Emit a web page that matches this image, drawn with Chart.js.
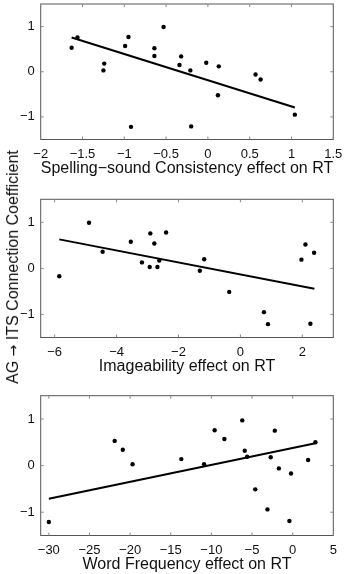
<!DOCTYPE html>
<html>
<head>
<meta charset="utf-8">
<script src="https://cdn.jsdelivr.net/npm/chart.js@4.4.1/dist/chart.umd.min.js"></script>
<style>
  body { margin: 0; background: #fff; }
  #wrap { position: relative; width: 347px; height: 574px; overflow: hidden; }
  #wrap canvas { position: absolute; left: 0; }
  #ylab {
    position: absolute; left: 12.5px; top: 267px;
    transform: translate(-50%, -50%) rotate(-90deg);
    white-space: nowrap; font: 16px "Liberation Sans", Arial, sans-serif; color: #111;
  }
  #ylab .arr { font-family: "DejaVu Sans", sans-serif; font-size: 14px; }
</style>
</head>
<body>
<div id="wrap">
  <canvas id="c1" width="347" height="178" style="top:0px"></canvas>
  <canvas id="c2" width="347" height="186" style="top:190px"></canvas>
  <canvas id="c3" width="347" height="189" style="top:385px"></canvas>
  <div id="ylab">AG <span class="arr">→</span> ITS Connection Coefficient</div>
</div>
<script>
// shared y axis
const yTicks = [-1, 0, 1];

// panel 1: spelling-sound consistency
const consX = [-1.63, -1.56, -1.24, -1.25, -0.99, -0.95, -0.92, -0.53, -0.64, -0.64,
               -0.32, -0.34, -0.21, -0.20, -0.02, 0.13, 0.12, 0.57, 0.63, 1.04];
const consY = [0.53, 0.76, 0.18, 0.03, 0.57, 0.77, -1.22, 0.99, 0.52, 0.35,
               0.34, 0.15, 0.03, -1.21, 0.20, 0.12, -0.52, -0.06, -0.17, -0.95];
const consFitX = [-1.63, 1.04];
const consFitY = [0.76, -0.79];
const consTicks = [-2, -1.5, -1, -0.5, 0, 0.5, 1, 1.5];

// panel 2: imageability
const imgX = [-5.85, -4.89, -4.45, -3.54, -3.18, -2.93, -2.91, -2.78, -2.68, -2.62,
              -2.40, -1.31, -1.17, -0.36, 0.76, 0.89, 1.97, 2.10, 2.26, 2.38];
const imgY = [-0.17, 0.99, 0.36, 0.58, 0.13, 0.03, 0.76, 0.54, 0.03, 0.17,
              0.78, -0.05, 0.20, -0.51, -0.95, -1.21, 0.19, 0.52, -1.20, 0.34];
const imgFitX = [-5.85, 2.39];
const imgFitY = [0.63, -0.44];
const imgTicks = [-6, -4, -2, 0, 2];

// panel 3: word frequency
const freqX = [-30.0, -21.9, -20.9, -19.7, -13.7, -10.9, -9.6, -8.4, -6.2, -5.9,
               -5.6, -4.6, -3.1, -2.7, -2.2, -1.7, -0.4, -0.2, 1.9, 2.8];
const freqY = [-1.21, 0.53, 0.34, 0.03, 0.14, 0.03, 0.76, 0.57, 0.97, 0.32,
               0.19, -0.51, -0.94, 0.18, 0.75, -0.06, -1.19, -0.17, 0.12, 0.50];
const freqFitX = [-30.0, 2.8];
const freqFitY = [-0.71, 0.48];
const freqTicks = [-30, -25, -20, -15, -10, -5, 0, 5];

const FONT = "'Liberation Sans', Arial, sans-serif";

// matlab style box with inward ticks
const boxPlugin = {
  id: "box",
  afterDatasetsDraw(chart) {
    const { ctx, chartArea: a, scales } = chart;
    ctx.save();
    ctx.strokeStyle = "#555";
    ctx.lineWidth = 1;
    ctx.strokeRect(a.left, a.top, a.right - a.left, a.bottom - a.top);
    ctx.strokeStyle = "#888";
    ctx.beginPath();
    scales.x.ticks.forEach(t => {
      const px = scales.x.getPixelForValue(t.value);
      ctx.moveTo(px, a.bottom); ctx.lineTo(px, a.bottom - 3);
      ctx.moveTo(px, a.top); ctx.lineTo(px, a.top + 3);
    });
    scales.y.ticks.forEach(t => {
      const py = scales.y.getPixelForValue(t.value);
      ctx.moveTo(a.left, py); ctx.lineTo(a.left + 3, py);
      ctx.moveTo(a.right, py); ctx.lineTo(a.right - 3, py);
    });
    ctx.stroke();
    ctx.restore();
  }
};

const fmt = v => String(v).replace("-", "\u2212");

function makePanel(id, xs, ys, fitX, fitY, xMin, xMax, xTicks, title, padTop) {
  new Chart(document.getElementById(id), {
    type: "scatter",
    data: {
      datasets: [
        {
          data: xs.map((x, i) => ({ x: x, y: ys[i] })),
          backgroundColor: "#000",
          borderColor: "#000",
          pointRadius: 2.2,
          pointBorderWidth: 0
        },
        {
          type: "line",
          data: fitX.map((x, i) => ({ x: x, y: fitY[i] })),
          borderColor: "#000",
          borderWidth: 2,
          pointRadius: 0,
          fill: false
        }
      ]
    },
    options: {
      responsive: false,
      animation: false,
      devicePixelRatio: 1,
      layout: { padding: { top: padTop, right: 13.7, left: 0, bottom: 0 } },
      plugins: { legend: { display: false }, tooltip: { enabled: false } },
      scales: {
        x: {
          type: "linear",
          min: xMin,
          max: xMax,
          afterBuildTicks: s => { s.ticks = xTicks.map(v => ({ value: v })); },
          afterFit: s => { s.height = 38.5; s.paddingLeft = 0; s.paddingRight = 0; },
          grid: { display: false, drawTicks: false },
          border: { display: false },
          ticks: { padding: 7, color: "#111", font: { family: FONT, size: 13 }, callback: fmt, maxRotation: 0, autoSkip: false },
          title: { display: true, text: title, color: "#111", font: { family: FONT, size: 16 }, padding: 0 }
        },
        y: {
          min: -1.5,
          max: 1.5,
          afterBuildTicks: s => { s.ticks = yTicks.map(v => ({ value: v })); },
          afterFit: s => { s.width = 40.7; s.paddingTop = 0; s.paddingBottom = 0; },
          grid: { display: false, drawTicks: false },
          border: { display: false },
          ticks: { padding: 6, color: "#111", font: { family: FONT, size: 13 }, callback: fmt }
        }
      }
    },
    plugins: [boxPlugin]
  });
}

makePanel("c1", consX, consY, consFitX, consFitY, -2, 1.5, consTicks,
  "Spelling\u2212sound Consistency effect on RT", 1.5);
makePanel("c2", imgX, imgY, imgFitX, imgFitY, -6.45, 3, imgTicks,
  "Imageability effect on RT", 9.3);
makePanel("c3", freqX, freqY, freqFitX, freqFitY, -31, 5, freqTicks,
  "Word Frequency effect on RT", 10.7);
</script>
</body>
</html>
